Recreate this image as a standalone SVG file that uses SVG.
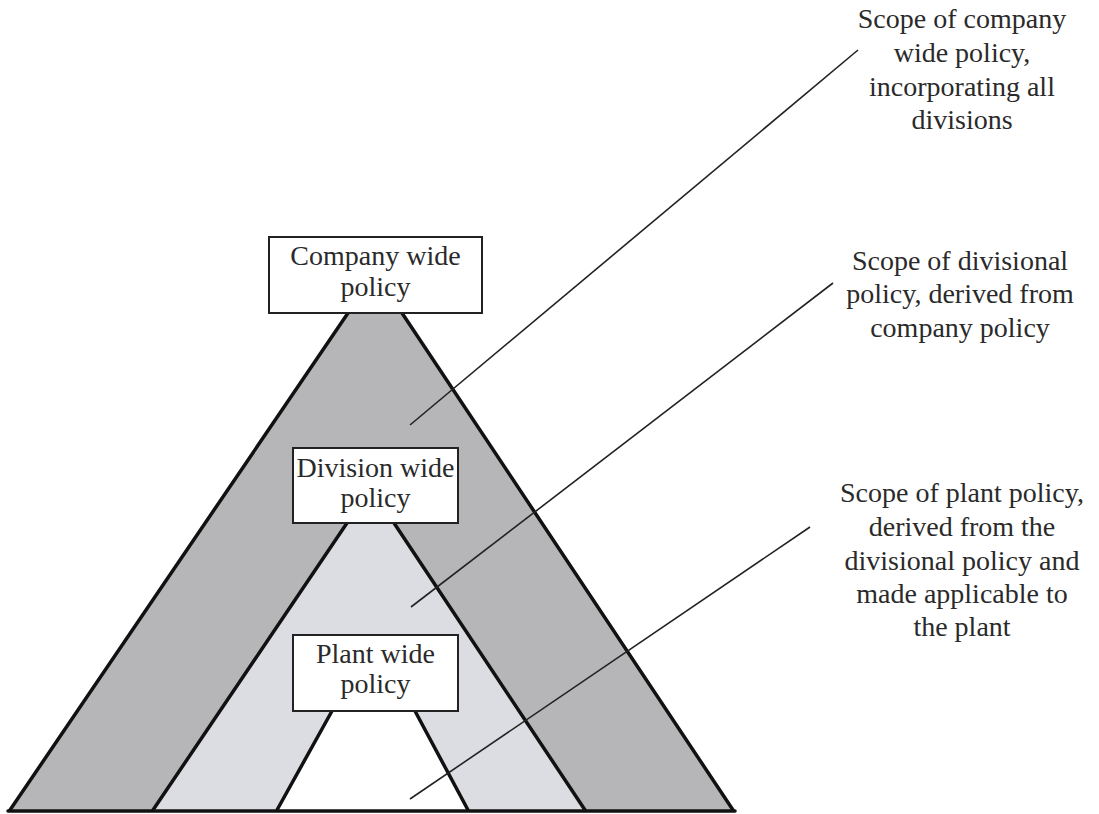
<svg xmlns="http://www.w3.org/2000/svg" width="1099" height="814" viewBox="0 0 1099 814">
<style>
.txt{font-family:"Liberation Serif","Times New Roman",serif;font-size:28px;fill:#2a2a2a;text-anchor:middle}
.edge{stroke:#111;stroke-width:3.5;fill:none;stroke-linecap:round}
.box{fill:#fff;stroke:#222;stroke-width:2}
.call{stroke:#222;stroke-width:1.6;fill:none}
</style>
<rect width="1099" height="814" fill="#fff"/>
<g id="scopes">
<polygon points="348,313 402,313 733,810 10,810" fill="#b6b6b9"/>
<polygon points="347,523 394,523 585,810 153,810" fill="#dcdde2"/>
<polygon points="332,711 415,711 468,810 277,810" fill="#ffffff"/>
<line class="edge" x1="348" y1="313" x2="10" y2="810"/>
<line class="edge" x1="402" y1="313" x2="733" y2="810"/>
<line class="edge" x1="347" y1="523" x2="153" y2="810"/>
<line class="edge" x1="394" y1="523" x2="585" y2="810"/>
<line class="edge" x1="332" y1="711" x2="277" y2="810"/>
<line class="edge" x1="415" y1="711" x2="468" y2="810"/>
<line class="edge" x1="8" y1="811" x2="735" y2="811"/>
</g>
<g id="connectors">
<line class="call" x1="410" y1="425" x2="858" y2="50"/>
<line class="call" x1="411" y1="607" x2="833" y2="283"/>
<line class="call" x1="410" y1="799" x2="810" y2="527"/>
</g>
<g id="company">
<rect class="box" x="269" y="237" width="213" height="76"/>
<text class="txt" x="375.5" y="265">Company wide</text>
<text class="txt" x="375.5" y="296">policy</text>
</g>
<g id="division">
<rect class="box" x="293" y="448" width="165" height="75"/>
<text class="txt" x="375.5" y="477">Division wide</text>
<text class="txt" x="375.5" y="507">policy</text>
</g>
<g id="plant">
<rect class="box" x="293" y="635" width="165" height="76"/>
<text class="txt" x="375.5" y="663">Plant wide</text>
<text class="txt" x="375.5" y="693">policy</text>
</g>
<g id="label-company">
<text class="txt" x="962" y="28">Scope of company</text>
<text class="txt" x="962" y="62">wide policy,</text>
<text class="txt" x="962" y="96">incorporating all</text>
<text class="txt" x="962" y="129">divisions</text>
</g>
<g id="label-division">
<text class="txt" x="960" y="270">Scope of divisional</text>
<text class="txt" x="960" y="303">policy, derived from</text>
<text class="txt" x="960" y="337">company policy</text>
</g>
<g id="label-plant">
<text class="txt" x="962" y="502">Scope of plant policy,</text>
<text class="txt" x="962" y="536">derived from the</text>
<text class="txt" x="962" y="570">divisional policy and</text>
<text class="txt" x="962" y="603">made applicable to</text>
<text class="txt" x="962" y="636">the plant</text>
</g>
</svg>
